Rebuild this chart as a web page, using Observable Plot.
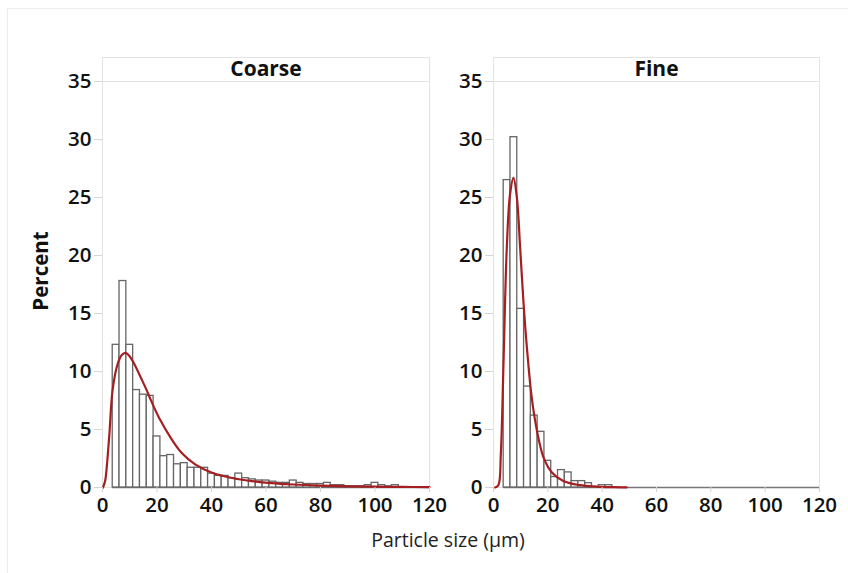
<!DOCTYPE html>
<html>
<head>
<meta charset="utf-8">
<script src="https://cdn.jsdelivr.net/npm/d3@7"></script>
<script src="https://cdn.jsdelivr.net/npm/@observablehq/plot@0.6"></script>
<style>
  html, body { margin: 0; padding: 0; background: #fff; }
  #root { position: relative; width: 848px; height: 573px; overflow: hidden; font-family: "Open Sans", sans-serif; }
  .outer { position: absolute; left: 7px; top: 8px; width: 900px; height: 700px; border: 1px solid #ececec; box-sizing: border-box; }
  .panel { position: absolute; top: 0; }
  .strip { position: absolute; top: 57px; height: 25px; border: 1px solid #e3e3e3; box-sizing: border-box;
           text-align: center; font-weight: 700; font-size: 21px; line-height: 21px; color: #111; }
  .ylab { position: absolute; left: 40px; top: 271px; transform: translate(-50%, -50%) rotate(-90deg);
          font-weight: 700; font-size: 20.5px; color: #111; white-space: nowrap; }
  .xlab { position: absolute; left: 448px; top: 526px; transform: translateX(-50%);
          font-size: 19.5px; color: #222; white-space: nowrap; }
</style>
</head>
<body>
<div id="root">
  <div class="outer"></div>
</div>
<script>
// Histogram bins (centres, width 2.5 µm)
const binCenters = [5, 7.5, 10, 12.5, 15, 17.5, 20, 22.5, 25, 27.5, 30, 32.5, 35, 37.5, 40, 42.5, 45, 47.5,
  50, 52.5, 55, 57.5, 60, 62.5, 65, 67.5, 70, 72.5, 75, 77.5, 80, 82.5, 85, 87.5, 90, 92.5, 95, 97.5,
  100, 102.5, 105, 107.5, 110, 112.5, 115, 117.5];
const binWidth = 2.5;

// Percent per bin
const coarsePct = [12.3, 17.8, 12.3, 8.4, 8.0, 7.9, 4.4, 2.7, 2.8, 2.0, 2.1, 1.7, 1.7, 1.7, 1.2, 1.0, 1.0, 0.8,
  1.2, 0.8, 0.7, 0.6, 0.6, 0.5, 0.4, 0.4, 0.6, 0.4, 0.3, 0.3, 0.3, 0.4, 0.2, 0.2, 0.1, 0.1, 0.1, 0.2,
  0.4, 0.2, 0.1, 0.2, 0, 0, 0, 0];
const finePct = [26.5, 30.2, 15.4, 8.7, 6.2, 4.8, 2.3, 0.9, 1.5, 1.3, 0.55, 0.55, 0.37, 0, 0.2, 0.2, 0, 0,
  0, 0, 0, 0, 0, 0, 0, 0, 0, 0, 0, 0, 0, 0, 0, 0, 0, 0, 0, 0,
  0, 0, 0, 0, 0, 0, 0, 0];

// Fitted distribution curves
const coarseFitX = [0.2, 1.0, 1.5, 2.5, 3.7, 5.5, 7, 8.5, 10, 12, 14, 16, 18, 21, 25, 29, 34, 40, 48, 55, 62, 70, 80, 90, 100, 110, 120];
const coarseFitY = [0, 0.6, 1.6, 4.5, 8.4, 10.6, 11.4, 11.6, 11.3, 10.5, 9.5, 8.5, 7.4, 5.9, 4.3, 3.0, 2.0, 1.3, 0.8, 0.55, 0.38, 0.26, 0.16, 0.1, 0.07, 0.05, 0.03];
const fineFitX = [0.6, 1.8, 2.7, 3.7, 4.9, 6.1, 7.35, 8.6, 9.8, 11, 12.3, 14.1, 16, 18.4, 21.5, 25.7, 31.9, 38, 44, 49];
const fineFitY = [0, 0.2, 2.9, 10.9, 20.7, 25.3, 26.7, 25.0, 20.7, 16.1, 12.05, 7.7, 4.9, 2.6, 1.3, 0.56, 0.2, 0.08, 0.03, 0.01];

const panelTitles = ["Coarse", "Fine"];
const xTicks = [0, 20, 40, 60, 80, 100, 120];
const yTicks = [0, 5, 10, 15, 20, 25, 30, 35];
const xDomain = [0, 120];
const yDomain = [0, 35];

function panel(pct, fitX, fitY, width, marginLeft, marginRight) {
  const bins = binCenters.map((c, i) => ({x1: c - binWidth / 2, x2: c + binWidth / 2, y: pct[i]})).filter(d => d.y > 0);
  const base = [{x1: binCenters[0] - binWidth / 2, x2: xDomain[1], y: 0}];
  const fit = fitX.map((x, i) => ({x, y: fitY[i]}));
  return Plot.plot({
    width, height: 527, marginLeft, marginRight, marginTop: 81, marginBottom: 40,
    x: {domain: xDomain},
    y: {domain: yDomain},
    style: {fontFamily: "Open Sans", fontSize: "20.5px", color: "#111", background: "transparent", overflow: "visible"},
    marks: [
      Plot.frame({stroke: "#e3e3e3"}),
      Plot.ruleY(base, {x1: "x1", x2: "x2", y: "y", stroke: "#777", strokeWidth: 1.6}),
      Plot.rectY(bins, {x1: "x1", x2: "x2", y: "y", fill: "white", stroke: "#666", strokeWidth: 1.3}),
      Plot.line(fit, {x: "x", y: "y", stroke: "#a51f22", strokeWidth: 2.2, curve: "catmull-rom"}),
      Plot.axisY({ticks: yTicks, tickSize: 8, tickPadding: 3, stroke: "#d4d4d4", fill: "#111", fontWeight: 600, label: null}),
      Plot.axisX({ticks: xTicks, tickSize: 5, tickPadding: 5, stroke: "#d4d4d4", fill: "#111", fontWeight: 600, label: null})
    ]
  });
}

const root = document.getElementById("root");
const specs = [
  {pct: coarsePct, fx: coarseFitX, fy: coarseFitY, left: 0, width: 440, ml: 102, mr: 11},
  {pct: finePct, fx: fineFitX, fy: fineFitY, left: 440, width: 408, ml: 53, mr: 29}
];
specs.forEach((s, i) => {
  const wrap = document.createElement("div");
  wrap.className = "panel";
  wrap.style.left = s.left + "px";
  wrap.appendChild(panel(s.pct, s.fx, s.fy, s.width, s.ml, s.mr));
  root.appendChild(wrap);
  const strip = document.createElement("div");
  strip.className = "strip";
  strip.style.left = (s.left + s.ml) + "px";
  strip.style.width = (s.width - s.ml - s.mr + 1) + "px";
  strip.textContent = panelTitles[i];
  root.appendChild(strip);
});
const yl = document.createElement("div"); yl.className = "ylab"; yl.textContent = "Percent"; root.appendChild(yl);
const xl = document.createElement("div"); xl.className = "xlab"; xl.textContent = "Particle size (µm)"; root.appendChild(xl);
</script>
</body>
</html>
